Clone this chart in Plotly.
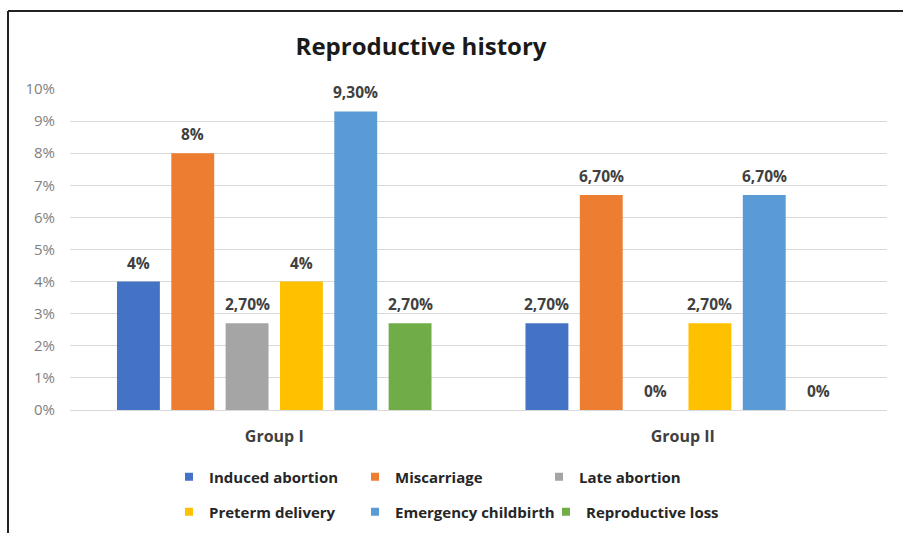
import plotly.graph_objects as go

# Reproductive history by group (percent of patients)
groups = ["Group I", "Group II"]
series = ["Induced abortion", "Miscarriage", "Late abortion",
          "Preterm delivery", "Emergency childbirth", "Reproductive loss"]
colors = ["#4472C4", "#ED7D31", "#A5A5A5", "#FFC000", "#5B9BD5", "#70AD47"]
values = [
    [4.0, 2.7],   # Induced abortion
    [8.0, 6.7],   # Miscarriage
    [2.7, 0.0],   # Late abortion
    [4.0, 2.7],   # Preterm delivery
    [9.3, 6.7],   # Emergency childbirth
    [2.7, 0.0],   # Reproductive loss
]
labels = [
    ["4%", "2,70%"],
    ["8%", "6,70%"],
    ["2,70%", "0%"],
    ["4%", "2,70%"],
    ["9,30%", "6,70%"],
    ["2,70%", "0%"],
]
y_ticks = list(range(0, 11))
y_tick_labels = [f"{t}%" for t in y_ticks]

FONT = "Open Sans"
pitch = 0.133
bar_w = 0.105
xpos = list(range(len(groups)))

# plot-area geometry in pixels (used to place the legend blocks)
L, R, T, B = 70, 887, 89, 410
W, H = R - L, B - T
# legend swatch centres (px) for the two rows of three entries
legend_px = [(186, 477), (372, 477), (556, 477),
             (186, 512), (372, 512), (563, 512)]

fig = go.Figure()
annotations = []
layout_legends = {}
for i, name in enumerate(series):
    off = (i - 2.5) * pitch - bar_w / 2
    fig.add_trace(go.Bar(
        x=xpos, y=values[i], name=name, width=bar_w, offset=off,
        marker=dict(color=colors[i], line=dict(width=0)),
        showlegend=False,
    ))
    for g, v, t in zip(xpos, values[i], labels[i]):
        annotations.append(dict(
            x=g + off + bar_w / 2, y=v, xref="x", yref="y", text=t,
            showarrow=False, yanchor="bottom", yshift=6,
            font=dict(family=FONT, size=15.5, color="#404040", weight="bold"),
        ))
    key = "legend" if i == 0 else f"legend{i + 1}"
    fig.add_trace(go.Scatter(
        x=[None], y=[None], mode="markers", name=name,
        marker=dict(symbol="square", size=8, color=colors[i]),
        legend=key,
    ))
    px, py = legend_px[i]
    layout_legends[key] = dict(
        x=(px - 17 - L) / W, y=(B - py) / H,
        orientation="h", xanchor="left", yanchor="middle",
        font=dict(family=FONT, size=15, color="#262626", weight="bold"),
        itemwidth=30, bgcolor="rgba(0,0,0,0)",
    )

fig.update_layout(
    width=903, height=533,
    margin=dict(l=L, r=903 - R, t=T, b=533 - B, autoexpand=False),
    paper_bgcolor="white", plot_bgcolor="white",
    title=dict(text="<b>Reproductive history</b>", x=421 / 903, xanchor="center",
               y=1 - 47 / 533, yanchor="middle",
               font=dict(family=FONT, size=24, color="#1a1a1a")),
    barmode="overlay",
    xaxis=dict(range=[-0.5, 1.5], tickvals=xpos, ticktext=groups,
               showgrid=False, zeroline=False, showline=False, ticks="",
               ticklabelstandoff=15,
               tickfont=dict(family=FONT, size=16, color="#404040", weight="bold")),
    yaxis=dict(range=[0, 10], tickvals=y_ticks, ticktext=y_tick_labels,
               showgrid=True, gridcolor="#D9D9D9", gridwidth=1,
               zeroline=True, zerolinecolor="#D9D9D9", zerolinewidth=1,
               showline=False, ticks="", ticklabelstandoff=14,
               tickfont=dict(family=FONT, size=15, color="#7F7F7F")),
    annotations=annotations,
    shapes=[
        dict(type="line", xref="paper", yref="paper",
             x0=(8 - L) / W, x1=(903 - L) / W,
             y0=(B - 11) / H, y1=(B - 11) / H,
             line=dict(color="#222222", width=2)),
        dict(type="line", xref="paper", yref="paper",
             x0=(8 - L) / W, x1=(8 - L) / W,
             y0=(B - 11) / H, y1=(B - 540) / H,
             line=dict(color="#222222", width=2)),
    ],
    **layout_legends,
)

fig.write_html("out.html")
